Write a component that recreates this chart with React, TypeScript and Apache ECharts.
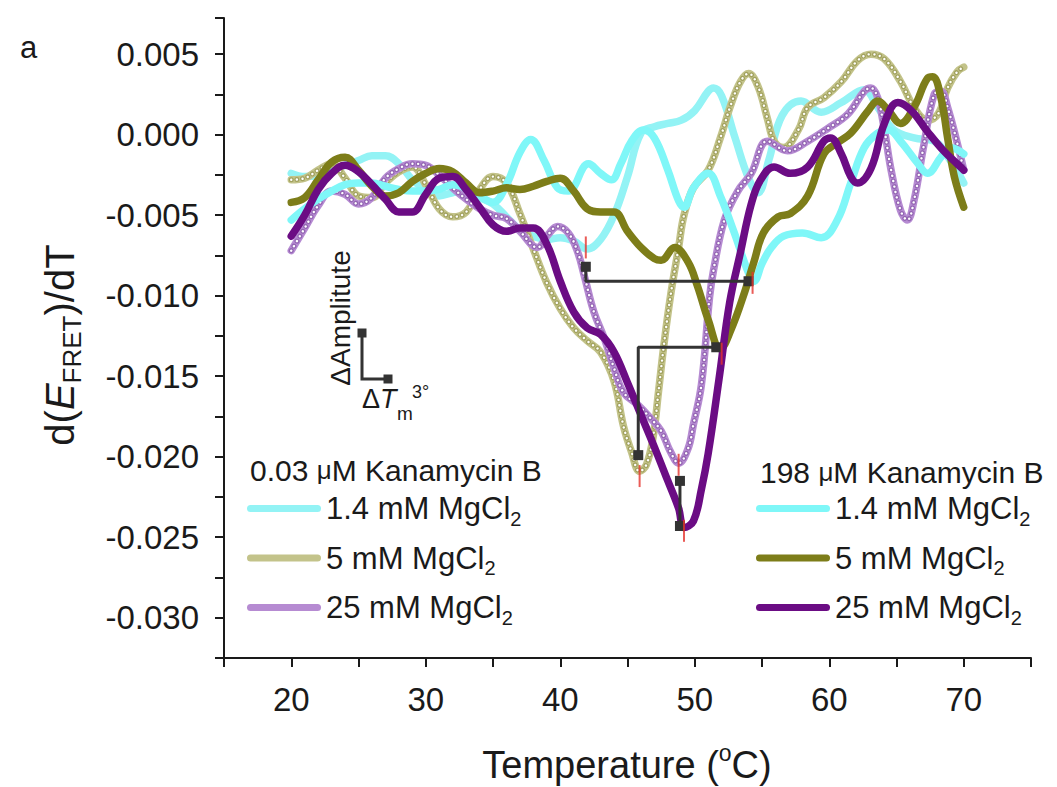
import React, { useEffect, useRef } from 'react';
import * as echarts from 'echarts';

const FONT = '"Liberation Sans", Arial, Helvetica, sans-serif';
const INK = '#1a1a1a';

const KAN_LOW = '0.03 μM Kanamycin B';
const KAN_HIGH = '198 μM Kanamycin B';
const MG_LABELS = ['1.4 mM MgCl2', '5 mM MgCl2', '25 mM MgCl2'];

// d(E_FRET)/dT versus temperature (°C)
const lowMg14: [number, number][] = [
  [20, -0.0024], [21, -0.0026], [22, -0.0025], [23, -0.0022], [24, -0.0019], [25, -0.0016], [26, -0.0013],
  [27, -0.0013], [28, -0.0018], [29, -0.0028], [30, -0.0034], [31, -0.0038], [32, -0.0036], [33, -0.0035],
  [34, -0.0039], [35, -0.0043], [36, -0.0051], [37, -0.0059], [38, -0.0063], [39, -0.0065], [40, -0.0064],
  [41, -0.0066], [42, -0.0071], [43, -0.0065], [44, -0.005], [45, -0.0026], [46, 0.0001], [47, 0.0005],
  [48, 0.0007], [49, 0.0009], [50, 0.0015], [51, 0.0027], [51.4, 0.0029], [52, 0.0024], [53, -0.0002],
  [54, -0.0027], [54.7, -0.0036], [55.5, -0.0016], [56.5, 0.0012], [57.9, 0.0021], [59.4, 0.0014],
  [60.9, 0.002], [62.6, 0.0028], [63.6, 0.0017], [64.8, 0.0003], [66.3, -0.0002], [67.8, -0.0004],
  [69, -0.0016], [70, -0.003],
];
const lowMg5: [number, number][] = [
  [20, -0.0028], [21, -0.0027], [22, -0.0022], [23, -0.0018], [24, -0.0027], [25, -0.0038], [26, -0.0039],
  [27, -0.003], [28, -0.0023], [29, -0.002], [30, -0.0031], [31, -0.0046], [32, -0.0051], [33, -0.0048],
  [34, -0.0034], [35, -0.0026], [36, -0.003], [37, -0.0049], [38, -0.0071], [39, -0.0092], [40, -0.0108],
  [41, -0.012], [42, -0.0128], [43, -0.0135], [44, -0.0153], [44.7, -0.0181], [45.3, -0.0197],
  [45.9, -0.0209], [46.4, -0.0205], [46.9, -0.0188], [47.3, -0.016], [47.7, -0.0131], [48.2, -0.01],
  [48.8, -0.007], [49.2, -0.005], [49.9, -0.0033], [51, -0.0022], [51.9, -0.0002], [52.7, 0.0019],
  [53.4, 0.0033], [54, 0.0038], [54.7, 0.003], [55.4, 0.001], [55.9, -0.0004], [56.6, -0.0008],
  [57.7, 0.0003], [58.4, 0.0017], [59.6, 0.0023], [60.9, 0.0033], [62.1, 0.0046], [63.1, 0.005],
  [64.1, 0.0047], [65.3, 0.0033], [66.3, 0.0017], [67.3, 0.0009], [68.1, 0.0013], [68.8, 0.0029],
  [69.5, 0.0039], [70, 0.0042],
];
const lowMg25: [number, number][] = [
  [20, -0.0072], [21, -0.0058], [22, -0.0044], [23, -0.0035], [24, -0.0037], [25, -0.0043], [26, -0.0039],
  [27, -0.0027], [28, -0.0021], [29, -0.0018], [30, -0.0019], [31, -0.0025], [32, -0.0033], [33, -0.004],
  [34, -0.0046], [35, -0.005], [36, -0.0052], [37, -0.006], [38.3, -0.007], [39.1, -0.0062], [39.8, -0.0057],
  [40.6, -0.0061], [41.3, -0.0073], [41.8, -0.0088], [42.5, -0.011], [43.3, -0.0127], [44, -0.0145],
  [44.7, -0.016], [45.8, -0.0168], [46.7, -0.0176], [47.5, -0.0184], [48.2, -0.0197], [48.8, -0.0204],
  [49.5, -0.0195], [49.9, -0.018], [50.5, -0.0155], [51.1, -0.0101], [51.4, -0.0084], [52.2, -0.0053],
  [53.2, -0.0035], [54.2, -0.0024], [55.4, -0.0004], [56.9, -0.001], [58.4, -0.0004], [59.9, 0.0004],
  [61.4, 0.0013], [62.6, 0.0027], [63.1, 0.0029], [63.6, 0.0023], [64.1, 0.0003], [64.6, -0.0022],
  [65.3, -0.0047], [65.8, -0.0053], [66.3, -0.0041], [67, -0.0008], [67.8, 0.0025], [68.3, 0.0027],
  [68.8, 0.0017], [69.6, -0.0008], [70, -0.0022],
];
const highMg14: [number, number][] = [
  [20, -0.0053], [21, -0.0046], [22, -0.004], [23, -0.0035], [24, -0.0031], [25, -0.003], [26, -0.003],
  [27, -0.0032], [28, -0.0034], [29, -0.0035], [30, -0.0035], [31, -0.0034], [32, -0.0031], [33, -0.0033],
  [34, -0.0038], [35, -0.0042], [36, -0.0031], [37, -0.0011], [37.8, -0.0003], [38.8, -0.0016],
  [39.8, -0.0033], [40.6, -0.0035], [42.1, -0.0018], [43, -0.0024], [43.8, -0.0028], [44.5, -0.0018],
  [45.3, -0.0004], [46.2, 0.0003], [47, -0.0002], [48, -0.0022], [48.8, -0.0041], [49.2, -0.0045],
  [49.9, -0.0033], [51, -0.0024], [51.9, -0.0038], [52.9, -0.006], [54, -0.0086], [54.4, -0.0091],
  [55, -0.008], [55.7, -0.007], [56.6, -0.0063], [58, -0.0061], [59.4, -0.0064], [60.6, -0.0053],
  [61.6, -0.003], [62.6, -0.0008], [63.6, 0.0001], [64.4, 0.0003], [65.3, -0.0004], [66.6, -0.0018],
  [67.3, -0.0024], [68.3, -0.0014], [69, -0.0008], [70, -0.0012],
];
const highMg5: [number, number][] = [
  [20, -0.0042], [21, -0.0039], [22, -0.0028], [23, -0.0017], [24, -0.0014], [25, -0.0022], [26, -0.0032],
  [27, -0.0038], [28, -0.0036], [29, -0.0029], [30, -0.0024], [31, -0.0021], [32, -0.0023], [33, -0.003],
  [34, -0.0036], [35, -0.0035], [36, -0.0033], [37, -0.0034], [38, -0.0032], [39, -0.0029], [40, -0.0027],
  [41, -0.0035], [42, -0.0046], [43, -0.0048], [44, -0.0048], [45, -0.006], [46, -0.007], [47, -0.0077],
  [47.5, -0.0078], [48.5, -0.007], [49.5, -0.0079], [50.2, -0.0094], [51, -0.0115], [51.9, -0.0133],
  [52.7, -0.0121], [53.7, -0.0098], [54.4, -0.0079], [55.1, -0.0061], [56.2, -0.0051], [57.1, -0.0049],
  [58.4, -0.0038], [59.6, -0.0012], [60.6, -0.0005], [61.6, 0.0001], [62.9, 0.0015], [63.6, 0.0021],
  [64.4, 0.0015], [65.3, 0.0007], [66.3, 0.0017], [67.3, 0.0035], [67.7, 0.0036], [68.3, 0.0023],
  [68.8, -0.0002], [69.3, -0.0026], [70, -0.0045],
];
const highMg25: [number, number][] = [
  [20, -0.0063], [21, -0.005], [22, -0.0034], [23, -0.0024], [24, -0.0019], [25, -0.0023], [26, -0.0031],
  [27, -0.004], [28, -0.0048], [29, -0.0048], [30, -0.0037], [31, -0.0027], [32, -0.0026], [33, -0.0034],
  [34, -0.0045], [35, -0.0056], [36, -0.006], [37, -0.0058], [38, -0.0058], [39, -0.0068], [40, -0.0091],
  [41, -0.011], [42, -0.012], [43, -0.0124], [44, -0.0135], [45, -0.0154], [46, -0.0174], [47, -0.0194],
  [48, -0.0215], [48.8, -0.0232], [49.2, -0.0244], [49.9, -0.024], [50.5, -0.022], [51, -0.0198],
  [51.8, -0.0152], [52.6, -0.0104], [53.4, -0.0073], [54.2, -0.0043], [54.9, -0.0028], [55.9, -0.002],
  [57.1, -0.0024], [58.4, -0.002], [59.6, -0.0004], [60.1, -0.0002], [60.9, -0.0012], [61.6, -0.0026],
  [62.1, -0.003], [63.1, -0.0021], [64.1, 0.0007], [65.1, 0.002], [66.1, 0.0015], [67.3, 0.0002],
  [68.5, -0.001], [69.5, -0.0018], [70, -0.0022],
];

// Tm markers (red) and difference brackets
const tmMarks: [number, number][] = [
  [41.9, -0.007], [54.3, -0.0092], [52.0, -0.0136], [45.9, -0.0212], [48.8, -0.0205], [49.2, -0.0246],
];
const bracket14: [number, number][] = [[41.9, -0.0082], [41.9, -0.0091], [54.0, -0.0091]];
const bracket5: [number, number][] = [[51.6, -0.0132], [45.8, -0.0132], [45.8, -0.0199]];
const bracket25: [number, number][] = [[48.9, -0.0215], [48.9, -0.0243]];

const C_LOW_CYAN = '#93f3f5';
const C_KHAKI = '#c3c38a';
const C_KHAKI_RING = '#a2a25f';
const C_LPURPLE = '#b68bd2';
const C_LPURPLE_RING = '#9466b3';
const C_CYAN = '#7ff7f8';
const C_OLIVE = '#7d7d19';
const C_PURPLE = '#6b0c84';

const SMOOTH = 0.4;
const LW = 7.5;

function mainLine(name: string, data: [number, number][], color: string) {
  return {
    type: 'line', name, data, smooth: SMOOTH, symbol: 'none', showSymbol: false, silent: true,
    lineStyle: { color, width: LW, cap: 'round', join: 'round' },
    itemStyle: { color },
  };
}
function dotLine(data: [number, number][], color: string, width: number) {
  return {
    type: 'line', data, smooth: SMOOTH, symbol: 'none', showSymbol: false, silent: true,
    lineStyle: { color, width, type: [0.01, 5.6], cap: 'round' },
  };
}
function bracket(data: [number, number][]) {
  return {
    type: 'line', data: data.map((p, i) => ({ value: p, symbol: i === 0 || i === data.length - 1 ? 'rect' : 'none' })),
    symbolSize: 10, silent: true, smooth: false,
    lineStyle: { color: '#333', width: 3 }, itemStyle: { color: '#333' },
  };
}

const nameOf = (kan: string, i: number) => `${kan} · ${MG_LABELS[i]}`;

const legendRich = {
  t: { fontSize: 31, lineHeight: 40, fontFamily: FONT, color: INK },
  s: { fontSize: 20, lineHeight: 12, verticalAlign: 'bottom', fontFamily: FONT, color: INK },
};
const legendFormatter = (name: string) => {
  const mg = name.split(' · ')[1];
  return `{t|${mg.slice(0, -1)}}{s|${mg.slice(-1)}}`;
};
const CAPSULE = 'path://M3.5,0 H70.5 A3.5,3.5 0 0 1 70.5,7 H3.5 A3.5,3.5 0 0 1 3.5,0 Z';

function legendAt(left: number, names: string[]) {
  return {
    data: names, orient: 'vertical', left, top: 493, padding: 0,
    itemWidth: 74, itemHeight: 7, itemGap: 14, icon: CAPSULE, selectedMode: false,
    formatter: legendFormatter,
    textStyle: { fontSize: 31, fontFamily: FONT, color: INK, rich: legendRich },
  };
}

const isMajor = (v: number) => Math.abs(v / 0.005 - Math.round(v / 0.005)) < 1e-6;

const headerStyle = (text: string) => ({
  text,
  align: 'left',
  verticalAlign: 'middle',
  fill: INK,
  rich: {
    n: { fontSize: 30, fontFamily: FONT, fill: INK },
    u: { fontSize: 26, fontFamily: FONT, fill: INK },
  },
});

const option: any = {
  animation: false,
  backgroundColor: '#fff',
  grid: { left: 224, right: 26, top: 18, bottom: 129, containLabel: false },
  xAxis: {
    type: 'value', min: 15, max: 75, interval: 5,
    axisLine: { show: true, onZero: false, lineStyle: { color: INK, width: 2 } },
    axisTick: { show: true, length: 9, lineStyle: { color: INK, width: 2 } },
    splitLine: { show: false },
    axisLabel: {
      fontSize: 33, fontFamily: FONT, color: INK, margin: 25,
      formatter: (v: number) => (v % 10 === 0 && v >= 20 && v <= 70 ? String(v) : ''),
    },
  },
  yAxis: {
    type: 'value', min: -0.0325, max: 0.00725, interval: 0.0025,
    axisLine: { show: true, onZero: false, lineStyle: { color: INK, width: 2 } },
    axisTick: { show: true, length: 9, lineStyle: { color: INK, width: 2 } },
    splitLine: { show: false },
    axisLabel: {
      fontSize: 33, fontFamily: FONT, color: INK, margin: 25,
      formatter: (v: number) => (isMajor(v) ? (Math.abs(v) < 1e-9 ? '0.000' : v.toFixed(3)) : ''),
    },
  },
  legend: [
    legendAt(247, [0, 1, 2].map((i) => nameOf(KAN_LOW, i))),
    legendAt(756, [0, 1, 2].map((i) => nameOf(KAN_HIGH, i))),
  ],
  series: [
    mainLine(nameOf(KAN_LOW, 0), lowMg14, C_LOW_CYAN),
    mainLine(nameOf(KAN_LOW, 1), lowMg5, C_KHAKI),
    dotLine(lowMg5, C_KHAKI_RING, 5),
    dotLine(lowMg5, '#ffffff', 2.4),
    mainLine(nameOf(KAN_LOW, 2), lowMg25, C_LPURPLE),
    dotLine(lowMg25, C_LPURPLE_RING, 5),
    dotLine(lowMg25, '#ffffff', 2.4),
    mainLine(nameOf(KAN_HIGH, 0), highMg14, C_CYAN),
    mainLine(nameOf(KAN_HIGH, 1), highMg5, C_OLIVE),
    mainLine(nameOf(KAN_HIGH, 2), highMg25, C_PURPLE),
    bracket(bracket14),
    bracket(bracket5),
    bracket(bracket25),
    {
      type: 'scatter', data: tmMarks, symbol: 'rect', symbolSize: [2, 22], silent: true,
      itemStyle: { color: '#e5332d' }, z: 5,
    },
  ],
  graphic: [
    { type: 'text', x: 20, y: 47, style: { text: 'a', fontSize: 31, fontFamily: FONT, fill: INK, align: 'left', verticalAlign: 'middle' } },
    { type: 'text', x: 250, y: 470, style: headerStyle('{n|0.03 }{u|μ}{n|M Kanamycin B}') },
    { type: 'text', x: 760, y: 472, style: headerStyle('{n|198 }{u|μ}{n|M Kanamycin B}') },
    {
      type: 'text', x: 60, y: 345, rotation: Math.PI / 2,
      style: {
        text: '{n|d(}{i|E}{s|FRET}{n|)/dT}', align: 'center', verticalAlign: 'middle', fill: INK,
        rich: {
          n: { fontSize: 40, lineHeight: 50, fontFamily: FONT, fill: INK },
          i: { fontSize: 40, lineHeight: 50, fontStyle: 'italic', fontFamily: FONT, fill: INK },
          s: { fontSize: 26, lineHeight: 16, verticalAlign: 'bottom', fontFamily: FONT, fill: INK },
        },
      },
    },
    {
      type: 'text', x: 627, y: 765,
      style: {
        text: '{n|Temperature (}{o|o}{n|C)}', align: 'center', verticalAlign: 'middle', fill: INK,
        rich: {
          n: { fontSize: 38, lineHeight: 48, fontFamily: FONT, fill: INK },
          o: { fontSize: 23, lineHeight: 30, verticalAlign: 'top', fontFamily: FONT, fill: INK },
        },
      },
    },
    { type: 'text', x: 340, y: 318, rotation: Math.PI / 2, style: { text: 'ΔAmplitute', fontSize: 28, fontFamily: FONT, fill: INK, align: 'center', verticalAlign: 'middle' } },
    { type: 'polyline', shape: { points: [[362, 333], [362, 379], [388, 379]] }, style: { stroke: '#333', lineWidth: 3, fill: null } },
    { type: 'rect', shape: { x: 357.5, y: 328.5, width: 9, height: 9 }, style: { fill: '#333' } },
    { type: 'rect', shape: { x: 383.5, y: 374.5, width: 9, height: 9 }, style: { fill: '#333' } },
    {
      type: 'text', x: 362, y: 399,
      style: {
        text: '{n|Δ}{i|T}', align: 'left', verticalAlign: 'middle', fill: INK,
        rich: {
          n: { fontSize: 27, fontFamily: FONT, fill: INK },
          i: { fontSize: 27, fontStyle: 'italic', fontFamily: FONT, fill: INK },
        },
      },
    },
    { type: 'text', x: 397, y: 413, style: { text: 'm', fontSize: 19, fontFamily: FONT, fill: INK, align: 'left', verticalAlign: 'middle' } },
    { type: 'text', x: 412, y: 392, style: { text: '3°', fontSize: 18, fontFamily: FONT, fill: INK, align: 'left', verticalAlign: 'middle' } },
  ],
};

export default function App() {
  const ref = useRef<HTMLDivElement>(null);
  useEffect(() => {
    if (!ref.current) return;
    const chart = echarts.init(ref.current, undefined, { renderer: 'svg' });
    chart.setOption(option);
    return () => chart.dispose();
  }, []);
  return (
    <div
      ref={ref}
      style={{ position: 'fixed', left: 0, top: 0, width: 1057, height: 787, background: '#fff' }}
    />
  );
}
